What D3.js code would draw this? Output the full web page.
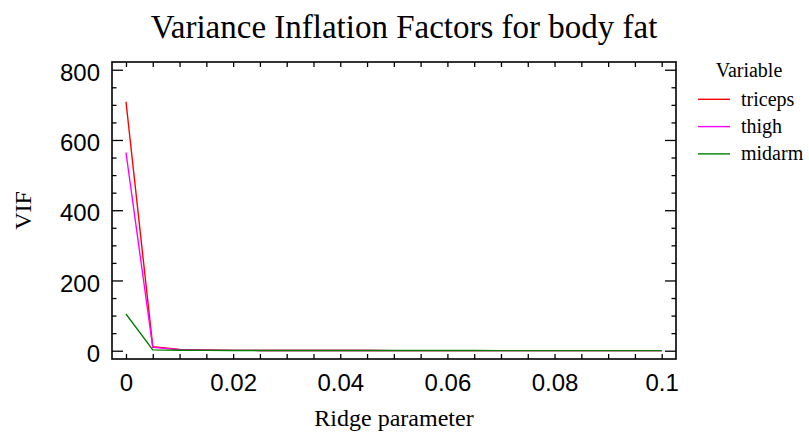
<!DOCTYPE html>
<html>
<head>
<meta charset="utf-8">
<script src="https://cdn.jsdelivr.net/npm/d3@7"></script>
<style>
  body { margin: 0; background: #fff; }
  .serif { font-family: "Liberation Serif", "Times New Roman", serif; }
  .tick text { font-family: "Liberation Sans", Arial, sans-serif; font-size: 24px; fill: #000; }
  .domain { display: none; }
  .tick line { stroke: #000; stroke-width: 1.3; }
</style>
</head>
<body>
<svg id="chart" width="809" height="435"></svg>
<script>
// ridge parameter values and VIFs
const ridge = [0, 0.005, 0.01, 0.015, 0.02, 0.025, 0.03, 0.035, 0.04, 0.045, 0.05,
               0.055, 0.06, 0.065, 0.07, 0.075, 0.08, 0.085, 0.09, 0.095, 0.1];
const triceps = [708.8, 11.6, 3.52, 1.85, 1.10, 0.80, 0.63, 0.53, 0.45, 0.40, 0.35,
                 0.32, 0.30, 0.28, 0.26, 0.25, 0.24, 0.23, 0.22, 0.21, 0.20];
const thigh = [564.3, 9.4, 3.00, 1.62, 1.08, 0.80, 0.64, 0.53, 0.45, 0.40, 0.35,
               0.32, 0.29, 0.27, 0.25, 0.23, 0.22, 0.21, 0.20, 0.19, 0.18];
const midarm = [104.6, 2.3, 1.24, 0.95, 0.76, 0.70, 0.65, 0.58, 0.53, 0.50, 0.47,
                0.44, 0.42, 0.40, 0.38, 0.36, 0.35, 0.33, 0.32, 0.31, 0.30];

const seriesNames = ['triceps', 'thigh', 'midarm'];
const seriesColors = ['#ff0000', '#ff00ff', '#008000'];

const xTicks = [0, 0.02, 0.04, 0.06, 0.08, 0.1];
const xTickLabels = ['0', '0.02', '0.04', '0.06', '0.08', '0.1'];
const xMinor = [0.005, 0.01, 0.015, 0.025, 0.03, 0.035, 0.045, 0.05, 0.055,
                0.065, 0.07, 0.075, 0.085, 0.09, 0.095];
const yTicks = [0, 200, 400, 600, 800];
const yMinor = [50, 100, 150, 250, 300, 350, 450, 500, 550, 650, 700, 750];

const L = 112, R = 676, T = 62, B = 359;

const svg = d3.select('#chart');

const x = d3.scaleLinear().domain([-0.00261, 0.10267]).range([L, R]);
const y = d3.scaleLinear().domain([-23.6, 822]).range([B, T]);

// title
svg.append('text')
    .attr('class', 'serif')
    .attr('x', 404).attr('y', 38)
    .attr('text-anchor', 'middle')
    .attr('font-size', 33)
    .text('Variance Inflation Factors for body fat');

// axes, ticks pointing inward
svg.append('g')
    .attr('transform', `translate(0,${B})`)
    .call(d3.axisBottom(x).tickValues(xTicks).tickSize(-5).tickPadding(15)
        .tickFormat((d, i) => xTickLabels[i]));
svg.append('g')
    .attr('transform', `translate(0,${B})`)
    .call(d3.axisBottom(x).tickValues(xMinor).tickSize(-5).tickFormat(''));
svg.append('g')
    .attr('transform', `translate(0,${T})`)
    .call(d3.axisTop(x).tickValues(xTicks.concat(xMinor)).tickSize(-5).tickFormat(''));

let yAx = svg.append('g')
    .attr('transform', `translate(${L},0)`)
    .call(d3.axisLeft(y).tickValues(yTicks).tickSize(-11).tickPadding(12));
yAx.selectAll('.tick text').attr('dy', '0.44em');
svg.append('g')
    .attr('transform', `translate(${L},0)`)
    .call(d3.axisLeft(y).tickValues(yMinor).tickSize(-4.5).tickFormat(''));
svg.append('g')
    .attr('transform', `translate(${R},0)`)
    .call(d3.axisRight(y).tickValues(yTicks).tickSize(-11).tickFormat(''));
svg.append('g')
    .attr('transform', `translate(${R},0)`)
    .call(d3.axisRight(y).tickValues(yMinor).tickSize(-4.5).tickFormat(''));

// frame
svg.append('rect')
    .attr('x', L).attr('y', T)
    .attr('width', R - L).attr('height', B - T)
    .attr('fill', 'none').attr('stroke', '#000').attr('stroke-width', 1.6);

// series lines
const line = d3.line().x((d, i) => x(ridge[i])).y(d => y(d));
[triceps, thigh, midarm].forEach((vals, k) => {
    svg.append('path')
        .datum(vals)
        .attr('d', line)
        .attr('fill', 'none')
        .attr('stroke', seriesColors[k])
        .attr('stroke-width', 1.4);
});

// axis titles
svg.append('text')
    .attr('class', 'serif')
    .attr('x', (L + R) / 2).attr('y', 426)
    .attr('text-anchor', 'middle')
    .attr('font-size', 24)
    .text('Ridge parameter');
svg.append('text')
    .attr('class', 'serif')
    .attr('transform', `translate(31,${(T + B) / 2}) rotate(-90)`)
    .attr('text-anchor', 'middle')
    .attr('font-size', 24)
    .text('VIF');

// legend
const lg = svg.append('g');
lg.append('text')
    .attr('class', 'serif')
    .attr('x', 749).attr('y', 77)
    .attr('text-anchor', 'middle')
    .attr('font-size', 20)
    .text('Variable');
seriesNames.forEach((name, i) => {
    const ly = 99.3 + i * 27.3;
    lg.append('line')
        .attr('x1', 698).attr('x2', 730)
        .attr('y1', ly).attr('y2', ly)
        .attr('stroke', seriesColors[i]).attr('stroke-width', 1.4);
    lg.append('text')
        .attr('class', 'serif')
        .attr('x', 741).attr('y', ly + 6.5)
        .attr('font-size', 20)
        .text(name);
});
</script>
</body>
</html>
